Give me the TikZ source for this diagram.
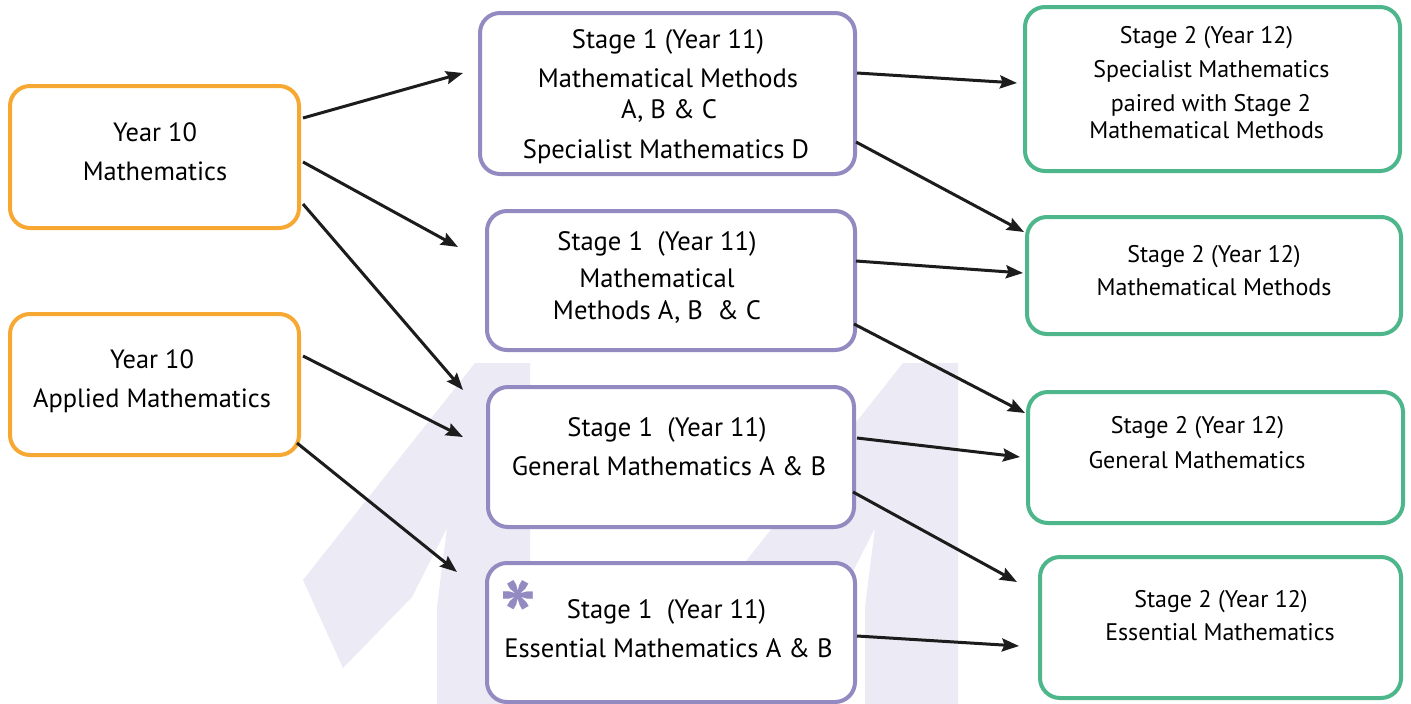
\documentclass[tikz,border=0pt]{standalone}
\usepackage{fontspec}
\setmainfont{PT Sans}
\usetikzlibrary{arrows.meta}
\definecolor{orng}{RGB}{247,168,51}
\definecolor{purp}{RGB}{146,138,192}
\definecolor{grn}{RGB}{77,182,138}
\definecolor{lav}{RGB}{236,234,245}
\definecolor{arrowc}{RGB}{28,28,28}
\begin{document}
\begin{tikzpicture}[x=1pt,y=-1pt,
  box/.style={draw, line width=4pt, rounded corners=20pt, fill=white, inner sep=0pt, outer sep=0pt},
  obox/.style={box, draw=orng},
  pbox/.style={box, draw=purp},
  gbox/.style={box, draw=grn},
  tbig/.style={anchor=base, inner sep=0pt, font=\fontsize{26.4}{32}\selectfont},
  tmid/.style={anchor=base, inner sep=0pt, font=\fontsize{26.6}{32}\selectfont},
  tsmall/.style={anchor=base, inner sep=0pt, font=\fontsize{24}{30}\selectfont},
  arr/.style={draw=arrowc, line width=3pt, -{Stealth[length=17pt,width=13pt,inset=2.5pt]}}
]
\useasboundingbox (0,0) rectangle (1411,704);
\fill[white] (0,0) rectangle (1411,704);
% background "11" shapes
\fill[lav] (475,363) -- (530,363) -- (530,704) -- (437,704) -- (437,607) -- (447,528) -- (412,597) -- (343,668) -- (303,580) -- cycle;
\fill[lav] (903,363) -- (958,363) -- (958,704) -- (865,704) -- (865,607) -- (875,528) -- (840,597) -- (771,668) -- (731,580) -- cycle;

% boxes
\node[obox, minimum width=289pt, minimum height=142pt] (Y1) at (154.5,157) {};
\node[obox, minimum width=289pt, minimum height=141pt] (Y2) at (154.5,384.5) {};
\node[pbox, minimum width=375pt, minimum height=161pt] (P1) at (667.5,93.5) {};
\node[pbox, minimum width=368pt, minimum height=139pt] (P2) at (671,280.5) {};
\node[pbox, minimum width=366pt, minimum height=140pt] (P3) at (671,457) {};
\node[pbox, minimum width=368pt, minimum height=139pt] (P4) at (671,632.5) {};
\node[gbox, minimum width=375pt, minimum height=164pt] (G1) at (1212.5,89) {};
\node[gbox, minimum width=374pt, minimum height=117pt] (G2) at (1214,275.5) {};
\node[gbox, minimum width=375pt, minimum height=131pt] (G3) at (1215.5,457.5) {};
\node[gbox, minimum width=361pt, minimum height=141pt] (G4) at (1220.5,627.5) {};

% texts
\node[tbig] (y1a) at (155,141.5) {Year 10};
\node[tbig] (y1b) at (155,180) {Mathematics};
\node[tbig] (y2a) at (152,368) {Year 10};
\node[tbig] (y2b) at (152,407) {Applied Mathematics};

\node[tmid] (p1a) at (668,48) {Stage 1 (Year 11)};
\node[tmid] (p1b) at (668,87) {Mathematical Methods};
\node[tmid] (p1c) at (669,118) {A, B \& C};
\node[tmid] (p1d) at (666,158) {Specialist Mathematics D};

\node[tmid] (p2a) at (657,250) {Stage 1\ \ (Year 11)};
\node[tmid] (p2b) at (657,287) {Mathematical};
\node[tmid] (p2c) at (657,319) {Methods A, B\ \ \& C};

\node[tmid] (p3a) at (667,436) {Stage 1\ \ (Year 11)};
\node[tmid] (p3b) at (669,475) {General Mathematics A \& B};

\node[tmid] (p4a) at (666.5,618) {Stage 1\ \ (Year 11)};
\node[tmid] (p4b) at (668.5,657) {Essential Mathematics A \& B};
\node[anchor=base, inner sep=0pt, text=purp, font=\bfseries\fontsize{100}{100}\selectfont] (ast) at (518,595) {\smash{\raisebox{-0.586em}{*}}};

\node[tsmall] (g1a) at (1206.5,43) {Stage 2 (Year 12)};
\node[tsmall] (g1b) at (1211.5,77) {Specialist Mathematics};
\node[tsmall] (g1c) at (1211,111) {paired with Stage 2};
\node[tsmall] (g1d) at (1206.7,138) {Mathematical Methods};

\node[tsmall] (g2a) at (1214,262) {Stage 2 (Year 12)};
\node[tsmall] (g2b) at (1214,295) {Mathematical Methods};

\node[tsmall] (g3a) at (1197.5,433) {Stage 2 (Year 12)};
\node[tsmall] (g3b) at (1197,468) {General Mathematics};

\node[tsmall] (g4a) at (1221,607) {Stage 2 (Year 12)};
\node[tsmall] (g4b) at (1220,640) {Essential Mathematics};

% connectors
\draw[arr] ([xshift=4pt,yshift=39pt]Y1.east) -- ([xshift=-17pt,yshift=20.5pt]P1.west);
\draw[arr] ([xshift=4pt,yshift=-5pt]Y1.east) -- ([xshift=-29pt,yshift=33.5pt]P2.west);
\draw[arr] ([xshift=4pt,yshift=-47pt]Y1.east) -- ([xshift=-25pt,yshift=-3pt]P3.north west);
\draw[arr] ([xshift=4pt,yshift=28.5pt]Y2.east) -- ([xshift=-25pt,yshift=20pt]P3.west);
\draw[arr] ([xshift=-2pt,yshift=12pt]Y2.south east) -- ([xshift=-30pt,yshift=-9pt]P4.north west);

\draw[arr] ([xshift=2pt,yshift=20.5pt]P1.east) -- ([xshift=-8pt,yshift=6pt]G1.west);
\draw[arr] ([xshift=1pt,yshift=-48.5pt]P1.east) -- ([xshift=-3pt,yshift=-15pt]G2.north west);
\draw[arr] ([xshift=1pt,yshift=19.5pt]P2.east) -- ([xshift=-4pt,yshift=2.5pt]G2.west);
\draw[arr] ([xshift=-1pt,yshift=-43.5pt]P2.east) -- ([xshift=-3pt,yshift=-21pt]G3.north west);
\draw[arr] ([xshift=3pt,yshift=19pt]P3.east) -- ([xshift=-8pt,yshift=0.5pt]G3.west);
\draw[arr] ([xshift=-1pt,yshift=-35pt]P3.east) -- ([xshift=-23pt,yshift=-25pt]G4.north west);
\draw[arr] ([xshift=2pt,yshift=-3.5pt]P4.east) -- ([xshift=-21pt,yshift=-18.5pt]G4.west);
\end{tikzpicture}
\end{document}
